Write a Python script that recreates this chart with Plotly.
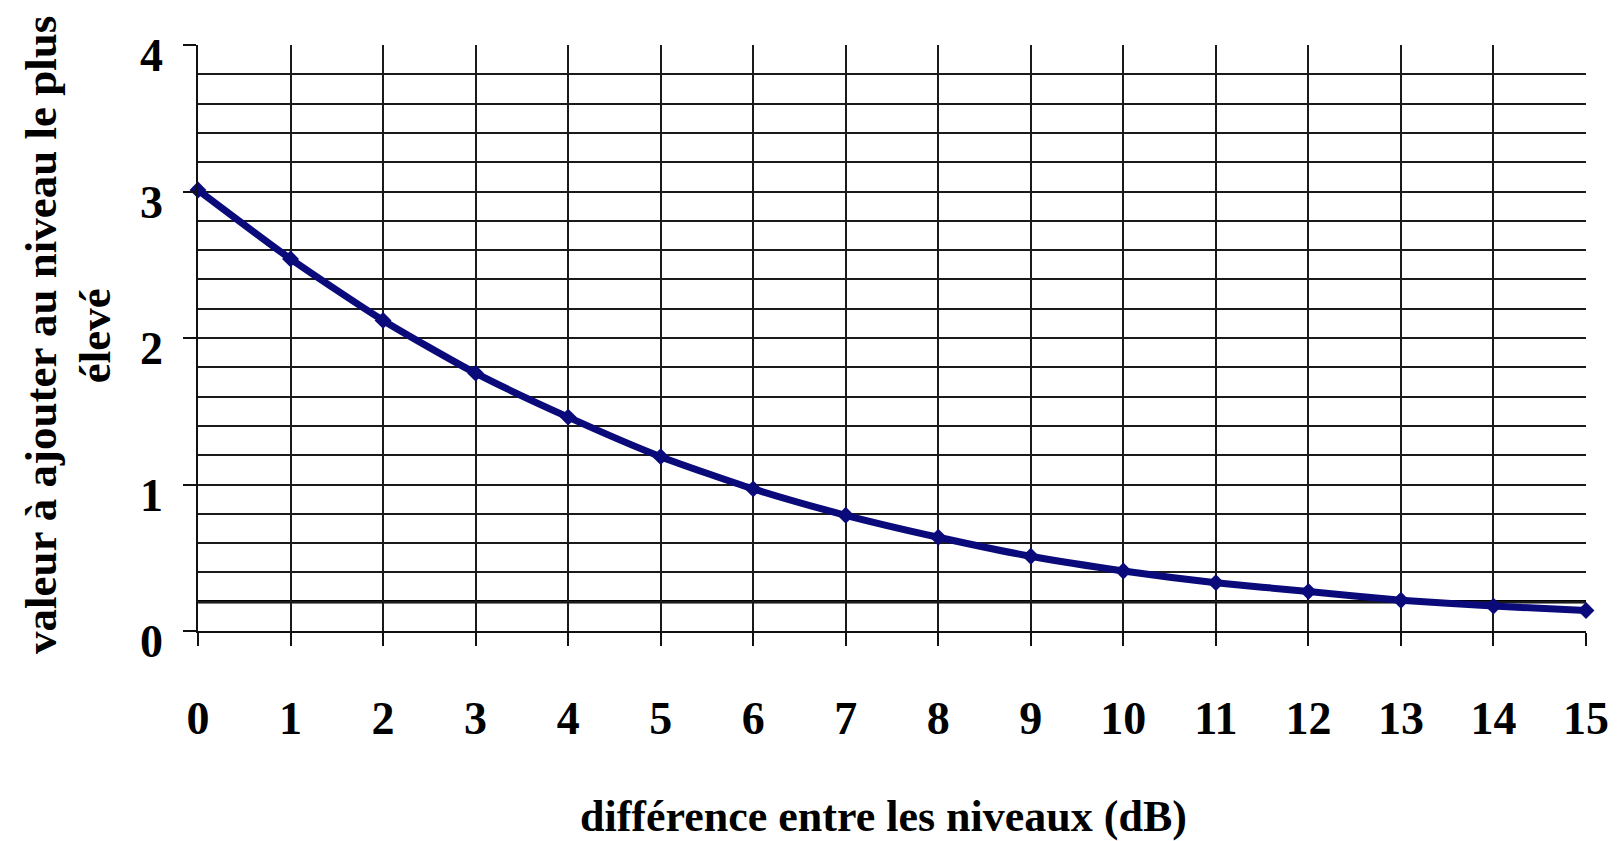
import plotly.graph_objects as go

# Data
diff_db = list(range(0, 16))
added_value = [3.01, 2.54, 2.12, 1.76, 1.46, 1.19, 0.97, 0.79, 0.64, 0.51,
               0.41, 0.33, 0.27, 0.21, 0.17, 0.14]
x_ticks = list(range(0, 16))
y_ticks = [0, 1, 2, 3, 4]
y_grid = [round(0.2 * i, 1) for i in range(1, 20)]
x_grid = list(range(1, 15))
threshold = 0.2

x_title = "différence entre les niveaux (dB)"
y_title_1 = "valeur à ajouter au niveau le plus"
y_title_2 = "élevé"

FONT = "Liberation Serif, Times New Roman, serif"
LINE_COLOR = "#0a0a7a"

fig = go.Figure()

# invisible helper trace for the grid overlay axes
fig.add_trace(go.Scatter(x=[0, 15], y=[0, 4], xaxis="x2", yaxis="y2",
                         mode="markers", marker=dict(opacity=0),
                         hoverinfo="skip", showlegend=False))

fig.add_trace(go.Scatter(
    x=diff_db, y=added_value, mode="lines+markers",
    line=dict(color=LINE_COLOR, width=7, shape="spline", smoothing=0.6),
    marker=dict(symbol="diamond", size=13, color=LINE_COLOR),
    cliponaxis=False, showlegend=False,
))

fig.add_hline(y=threshold, line=dict(color="black", width=3.5), layer="below")

tickfont = dict(family=FONT, size=46, color="black", weight="bold")

fig.update_layout(
    width=1615, height=833,
    margin=dict(l=190, r=37, t=37, b=210),
    paper_bgcolor="white", plot_bgcolor="white",
    xaxis=dict(range=[0, 15], tickvals=x_ticks, ticktext=[str(v) for v in x_ticks],
               ticks="outside", ticklen=13, tickwidth=1.8, tickcolor="#111",
               showline=True, linecolor="#111", linewidth=1.8,
               showgrid=False, zeroline=False, tickfont=tickfont,
               ticklabelstandoff=33),
    yaxis=dict(range=[0, 4], tickvals=y_ticks, ticktext=[str(v) for v in y_ticks],
               ticks="outside", ticklen=13, tickwidth=1.8, tickcolor="#111",
               showline=True, linecolor="#111", linewidth=1.8,
               showgrid=False, zeroline=False, tickfont=tickfont,
               ticklabelstandoff=11, ticklabelshift=10),
    xaxis2=dict(overlaying="x", range=[0, 15], tickvals=x_grid,
                showgrid=True, gridcolor="#1a1a1a", gridwidth=1.7,
                showticklabels=False, ticks="", showline=False, zeroline=False,
                anchor="y", side="bottom"),
    yaxis2=dict(overlaying="y", range=[0, 4], tickvals=y_grid,
                showgrid=True, gridcolor="#1a1a1a", gridwidth=1.7,
                showticklabels=False, ticks="", showline=False, zeroline=False,
                anchor="x", side="left"),
    annotations=[
        dict(text=x_title, xref="paper", yref="paper", x=0.494, y=-0.317,
             xanchor="center", yanchor="middle", showarrow=False,
             font=dict(family=FONT, size=44, color="black", weight="bold")),
        dict(text=y_title_1, xref="paper", yref="paper", x=-0.1131, y=0.505,
             xanchor="center", yanchor="middle", showarrow=False, textangle=-90,
             font=dict(family=FONT, size=45, color="black", weight="bold")),
        dict(text=y_title_2, xref="paper", yref="paper", x=-0.0742, y=0.503,
             xanchor="center", yanchor="middle", showarrow=False, textangle=-90,
             font=dict(family=FONT, size=45, color="black", weight="bold")),
    ],
)

fig.write_html("out.html")
